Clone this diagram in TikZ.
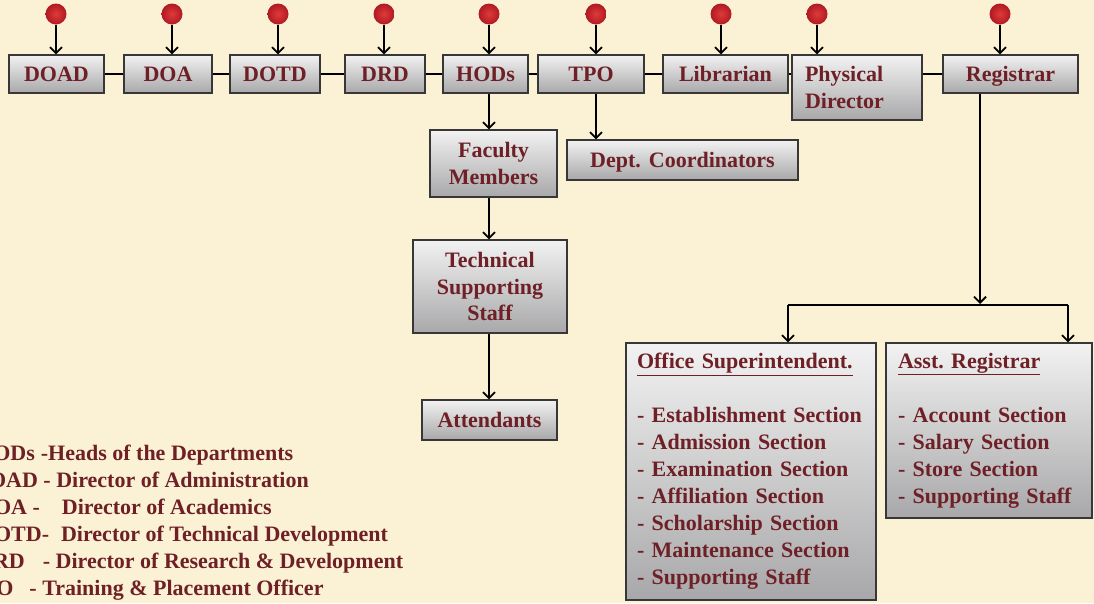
\documentclass[tikz,border=0pt]{standalone}
\usepackage{fontspec}
\setmainfont{Liberation Serif}
\usetikzlibrary{arrows.meta,calc}
\definecolor{bg}{RGB}{251,242,214}
\definecolor{txt}{RGB}{110,32,38}
\definecolor{edge}{RGB}{55,55,55}
\definecolor{boxtop}{RGB}{242,242,242}
\definecolor{boxbot}{RGB}{168,168,170}
\definecolor{dotin}{RGB}{225,58,58}
\definecolor{dotout}{RGB}{175,26,34}
\frenchspacing
\tikzset{
 box/.style={draw=edge, line width=1.1pt, top color=boxtop, bottom color=boxbot, text=txt,
   font=\bfseries\fontsize{22}{26.5}\selectfont, align=center, inner sep=0pt},
 one/.style={text height=14.8pt, text depth=0pt},
 listbox/.style={box, align=left, font=\bfseries\fontsize{22}{27}\selectfont},
 reddot/.style={circle, minimum size=21pt, inner sep=0pt, shading=radial, inner color=dotin, outer color=dotout},
 arr/.style={line width=1.8pt, -{Straight Barb[length=6pt,width=12pt,line width=1.8pt]}},
 link/.style={line width=1.8pt},
 leg/.style={anchor=base west, text=txt, font=\bfseries\fontsize{22}{27}\selectfont, inner sep=0pt},
}
\begin{document}
\begin{tikzpicture}[x=1pt,y=-1pt]
\useasboundingbox (0,0) rectangle (1094,603);
\fill[bg] (0,0) rectangle (1094,603);
\clip (0,0) rectangle (1094,603);

% top row
\node[box, one, minimum width=95, minimum height=38] (doad) at (56.5,74) {DOAD};
\node[box, one, minimum width=88, minimum height=38] (doa) at (168,74) {DOA};
\node[box, one, minimum width=90, minimum height=38] (dotd) at (275,74) {DOTD};
\node[box, one, minimum width=80, minimum height=38] (drd) at (385,74) {DRD};
\node[box, one, minimum width=85, minimum height=38] (hods) at (485.5,74) {HODs};
\node[box, one, minimum width=106, minimum height=38] (tpo) at (591,74) {TPO};
\node[box, one, minimum width=125, minimum height=38] (lib) at (725.5,74) {Librarian};
\node[box, minimum width=130, minimum height=65, align=left, inner xsep=13, text width=104] (phys) at (857,87.5) {Physical\\Director};
\node[box, one, minimum width=135, minimum height=38] (reg) at (1010.5,74) {Registrar};

% lower boxes
\node[box, minimum width=127, minimum height=67] (fac) at (493.5,163.5) {Faculty\\Members};
\node[box, one, minimum width=231, minimum height=40] (dc) at (682.5,160) {Dept.\hspace{8pt}Coordinators};
\node[box, minimum width=154, minimum height=93] (tech) at (490,286.5) {Technical\\Supporting\\Staff};
\node[box, one, minimum width=135, minimum height=40] (att) at (489.5,420) {Attendants};

\node[listbox, minimum width=250, minimum height=257, inner xsep=11, text width=228] (os) at (751,471.5)
 {\underline{Office Superintendent.}\\[27pt]
  - Establishment Section\\
  - Admission Section\\
  - Examination Section\\
  - Affiliation Section\\
  - Scholarship Section\\
  - Maintenance Section\\
  - Supporting Staff};
\node[listbox, minimum width=206, minimum height=175, inner xsep=12, text width=182] (ar) at (989,430.5)
 {\underline{Asst. Registrar}\\[27pt]
  - Account Section\\
  - Salary Section\\
  - Store Section\\
  - Supporting Staff};

% red dots
\node[reddot] (d1) at (56,14) {};
\node[reddot] (d2) at (172,14) {};
\node[reddot] (d3) at (278,14) {};
\node[reddot] (d4) at (384,14) {};
\node[reddot] (d5) at (489,14) {};
\node[reddot] (d6) at (596,14) {};
\node[reddot] (d7) at (721,14) {};
\node[reddot] (d8) at (817,14) {};
\node[reddot] (d9) at (1000,14) {};

\draw[arr] (d1.south) -- (d1.south |- doad.north);
\draw[arr] (d2.south) -- (d2.south |- doa.north);
\draw[arr] (d3.south) -- (d3.south |- dotd.north);
\draw[arr] (d4.south) -- (d4.south |- drd.north);
\draw[arr] (d5.south) -- (d5.south |- hods.north);
\draw[arr] (d6.south) -- (d6.south |- tpo.north);
\draw[arr] (d7.south) -- (d7.south |- lib.north);
\draw[arr] (d8.south) -- (d8.south |- phys.north);
\draw[arr] (d9.south) -- (d9.south |- reg.north);

% horizontal links
\draw[link] (doad.east) -- (doa.west);
\draw[link] (doa.east) -- (dotd.west);
\draw[link] (dotd.east) -- (drd.west);
\draw[link] (drd.east) -- (hods.west);
\draw[link] (hods.east) -- (tpo.west);
\draw[link] (tpo.east) -- (lib.west);
\draw[link] (lib.east) -- (lib.east -| phys.west);
\draw[link] (reg.west -| phys.east) -- (reg.west);

% vertical hierarchy
\draw[arr] (hods.south -| d5) -- (fac.north -| d5);
\draw[arr] (fac.south -| d5) -- (tech.north -| d5);
\draw[arr] (tech.south -| d5) -- (att.north -| d5);
\draw[arr] (tpo.south -| d6) -- (dc.north -| d6);

% registrar branch
\coordinate (bus) at (980,305);
\coordinate (busL) at (788,305);
\coordinate (busR) at (1068,305);
\draw[arr] (reg.south -| bus) -- ($(bus)+(0,-1)$);
\draw[link] (busL) -- (busR);
\draw[arr] (busL) -- (busL |- os.north);
\draw[arr] (busR) -- (busR |- ar.north);

% legend
\node[leg] (l1) at (-24,460) {HODs\hspace{6pt}-Heads of the Departments};
\node[leg] (l2) at (-27,487) {DOAD - Director of Administration};
\node[leg] (l3) at (-22,514) {DOA -\hspace{22pt}Director of Academics};
\node[leg] (l4) at (-22,541) {DOTD-\hspace{12pt}Director of Technical Development};
\node[leg] (l5) at (-23,568) {DRD\hspace{18pt}- Director of Research \& Development};
\node[leg] (l6) at (-32,595) {TPO\hspace{16pt}- Training \& Placement Officer};
\end{tikzpicture}
\end{document}
